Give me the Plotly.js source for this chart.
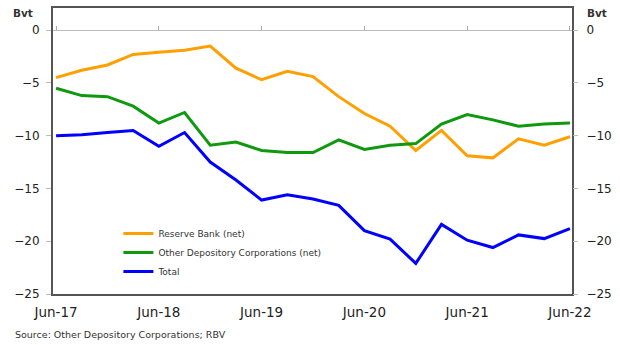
<!DOCTYPE html>
<html><head><meta charset="utf-8">
<script src="https://cdn.plot.ly/plotly-3.0.1.min.js"></script>
<style>html,body{margin:0;padding:0;background:#fff}#c{width:620px;height:345px}</style>
</head><body><div id="c"></div>
<script>
const quarters = ["Jun-17","Sep-17","Dec-17","Mar-18","Jun-18","Sep-18","Dec-18","Mar-19","Jun-19","Sep-19","Dec-19","Mar-20","Jun-20","Sep-20","Dec-20","Mar-21","Jun-21","Sep-21","Dec-21","Mar-22","Jun-22"];
const reserveBank = [-4.5,-3.8,-3.3,-2.3,-2.1,-1.9,-1.5,-3.6,-4.7,-3.9,-4.4,-6.3,-7.9,-9.1,-11.4,-9.5,-11.9,-12.1,-10.3,-10.9,-10.1];
const otherDepository = [-5.5,-6.2,-6.3,-7.2,-8.8,-7.8,-10.9,-10.6,-11.4,-11.6,-11.6,-10.4,-11.3,-10.9,-10.75,-8.9,-8.0,-8.5,-9.1,-8.9,-8.8];
const total = [-10.0,-9.9,-9.7,-9.5,-11.0,-9.7,-12.5,-14.2,-16.1,-15.6,-16.0,-16.6,-19.0,-19.8,-22.1,-18.4,-19.9,-20.6,-19.4,-19.75,-18.8];
const seriesNames = ["Reserve Bank (net)","Other Depository Corporations (net)","Total"];
const xTickLabels = ["Jun-17","Jun-18","Jun-19","Jun-20","Jun-21","Jun-22"];
const yTicks = [0,-5,-10,-15,-20,-25];
const unitLabel = "Bvt";
const sourceText = "Source: Other Depository Corporations; RBV";

const idx = quarters.map((q,i)=>i);
const xTickVals = xTickLabels.map(l=>quarters.indexOf(l));
const FONT = "DejaVu Sans";
const colors = ["#FF9F00","#0E990E","#0000FF"];
const data = [reserveBank, otherDepository, total].map((v,k)=>({
  x: idx, y: v, type:"scatter", mode:"lines", name: seriesNames[k],
  line:{color:colors[k], width:3}, hoverinfo:"skip",
  xaxis: k===2 ? "x2" : "x", yaxis: k===2 ? "y2" : "y"
}));
const xr = [-0.12, 20.08], yr = [-25, 2.1];
const layout = {
  width:620, height:345,
  margin:{l:53, r:48, t:8, b:51},
  paper_bgcolor:"#fff", plot_bgcolor:"#fff",
  font:{family:FONT, color:"#222", size:12},
  showlegend:true,
  legend:{x:0.126, y:0.262, xanchor:"left", yanchor:"top", bgcolor:"rgba(0,0,0,0)",
          font:{size:9, family:FONT, color:"#333"}, tracegroupgap:0},
  xaxis:{range:xr, tickvals:xTickVals, ticktext:xTickLabels, ticks:"", showgrid:false, zeroline:false,
         showline:true, mirror:true, linecolor:"#555", linewidth:2, tickfont:{size:13.5}, ticklabelstandoff:5},
  xaxis2:{range:xr, overlaying:"x", anchor:"free", side:"top", position:(0-yr[0])/(yr[1]-yr[0]),
          tickvals:xTickVals, showticklabels:false, ticks:"outside", ticklen:4, tickcolor:"#aaa", tickwidth:1,
          showline:false, showgrid:false, zeroline:false},
  yaxis:{range:yr, tickvals:yTicks, ticks:"outside", ticklen:5, tickcolor:"#bbb", showgrid:false,
         zeroline:true, zerolinecolor:"#bbb", zerolinewidth:1,
         showline:true, mirror:true, linecolor:"#555", linewidth:2, tickfont:{size:12}, ticklabelstandoff:4},
  yaxis2:{range:yr, overlaying:"y", anchor:"x2", side:"right", tickvals:yTicks, ticks:"outside", ticklen:5, tickcolor:"#bbb",
          showgrid:false, zeroline:false, showline:false, tickfont:{size:12}, ticklabelstandoff:6},
  annotations:[
    {text:"<b>"+unitLabel+"</b>", xref:"paper", yref:"paper", x:-0.035, y:0.982, xanchor:"right", yanchor:"middle", showarrow:false, font:{size:10.5, color:"#333"}},
    {text:"<b>"+unitLabel+"</b>", xref:"paper", yref:"paper", x:1.025, y:0.982, xanchor:"left", yanchor:"middle", showarrow:false, font:{size:10.5, color:"#333"}},
    {text:sourceText, xref:"paper", yref:"paper", x:-0.078, y:-0.115, xanchor:"left", yanchor:"top", showarrow:false, font:{size:9.5, color:"#333"}}
  ]
};
Plotly.newPlot("c", data, layout, {staticPlot:true});
</script></body></html>
